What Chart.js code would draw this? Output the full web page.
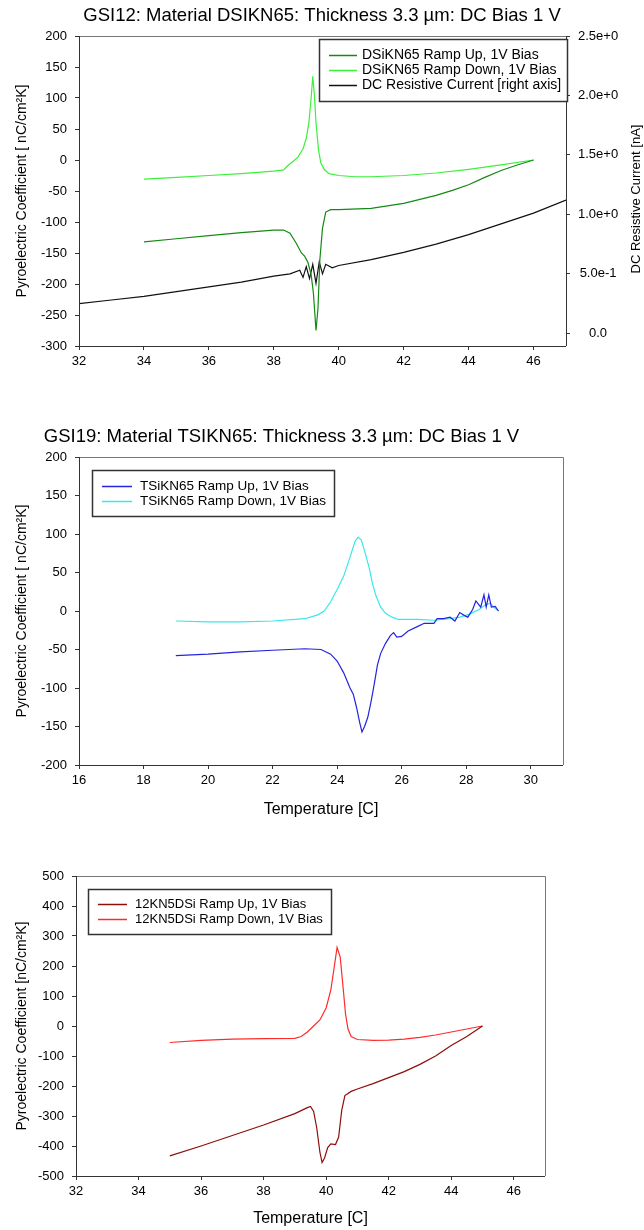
<!DOCTYPE html>
<html>
<head>
<meta charset="utf-8">
<script src="https://cdn.jsdelivr.net/npm/chart.js@4.4.0/dist/chart.umd.min.js"></script>
<style>
  html, body { margin: 0; padding: 0; background: #fff; }
  body { position: relative; width: 644px; height: 1230px; overflow: hidden; }
  canvas { position: absolute; left: 0; }
</style>
</head>
<body>
<canvas id="c1" width="644" height="376" style="top:0px"></canvas>
<canvas id="c2" width="644" height="405" style="top:420px"></canvas>
<canvas id="c3" width="644" height="390" style="top:840px"></canvas>
<script>
// --- chart 1: GSI12 / DSIKN65 ---
const ch1Title = "GSI12: Material DSIKN65: Thickness 3.3 \u00b5m: DC Bias 1 V";
const ch1XTicks = [32, 34, 36, 38, 40, 42, 44, 46];
const ch1RightTicks = [0, 0.5, 1.0, 1.5, 2.0, 2.5];
const ch1RightLabels = ["0.0", "5.0e-1", "1.0e+0", "1.5e+0", "2.0e+0", "2.5e+0"];
const ch1RightTitle = "DC Resistive Current [nA]";

const ch1UpLabel = "DSiKN65 Ramp Up, 1V Bias";
const ch1UpX = [34, 35, 36, 37, 38, 38.3, 38.5, 38.7, 38.85, 38.95, 39.05, 39.15, 39.22, 39.3, 39.36, 39.42, 39.5, 39.6, 39.75, 40, 41, 42, 43, 43.5, 44, 44.5, 45, 45.5, 46];
const ch1UpY = [-132, -127, -122, -117, -113, -113, -118, -135, -150, -155, -165, -185, -215, -275, -240, -160, -110, -84, -80, -80, -78, -70, -57, -49, -40, -28, -17, -8, 0];

const ch1DownLabel = "DSiKN65 Ramp Down, 1V Bias";
const ch1DownX = [34, 35, 36, 37, 38, 38.3, 38.45, 38.6, 38.75, 38.9, 39.0, 39.08, 39.15, 39.2, 39.25, 39.3, 39.38, 39.45, 39.55, 39.7, 40, 40.5, 41, 42, 43, 44, 45, 46];
const ch1DownY = [-31, -28, -25, -22, -18, -16, -8, -2, 5, 18, 35, 60, 100, 135, 105, 60, 15, -5, -15, -22, -25, -27, -27, -25, -21, -15, -8, 0];

const dcLabel = "DC Resistive Current [right axis]";
const dcX = [32, 33, 34, 35, 36, 37, 38, 38.5, 38.8, 38.9, 39.0, 39.1, 39.2, 39.3, 39.4, 39.5, 39.6, 39.8, 40, 41, 42, 43, 44, 45, 46, 47];
const dcY = [0.25, 0.28, 0.31, 0.35, 0.39, 0.43, 0.48, 0.5, 0.53, 0.47, 0.56, 0.46, 0.58, 0.42, 0.6, 0.5, 0.58, 0.55, 0.57, 0.62, 0.68, 0.75, 0.83, 0.92, 1.01, 1.12];

// --- chart 2: GSI19 / TSIKN65 ---
const ch2Title = "GSI19: Material TSIKN65: Thickness 3.3 \u00b5m: DC Bias 1 V";
const ch2XTicks = [16, 18, 20, 22, 24, 26, 28, 30];

const ch2UpLabel = "TSiKN65 Ramp Up, 1V Bias";
const ch2UpX = [19, 20, 21, 22, 23, 23.5, 23.8, 24, 24.2, 24.4, 24.5, 24.6, 24.7, 24.77, 24.85, 24.95, 25.05, 25.15, 25.25, 25.35, 25.5, 25.65, 25.75, 25.85, 26, 26.2, 26.5, 26.7, 27, 27.1, 27.3, 27.5, 27.65, 27.8, 27.95, 28.05, 28.2, 28.3, 28.45, 28.55, 28.62, 28.7, 28.78, 28.9, 29];
const ch2UpY = [-58, -56, -53, -51, -49, -50, -56, -65, -80, -100, -108, -125, -145, -157, -150, -138, -118, -95, -70, -55, -42, -32, -28, -34, -33, -26, -20, -16, -16, -10, -10, -8, -13, -2, -6, -8, 2, 13, 5, 21, 5, 21, 5, 6, 0];

const ch2DownLabel = "TSiKN65 Ramp Down, 1V Bias";
const ch2DownX = [19, 20, 21, 22, 23, 23.4, 23.6, 23.8, 24, 24.2, 24.4, 24.55, 24.65, 24.75, 24.85, 25, 25.1, 25.2, 25.35, 25.5, 25.7, 25.9, 26.2, 26.5, 27, 27.5, 27.8, 28.1, 28.4, 28.6, 28.75, 28.85, 29];
const ch2DownY = [-13, -14, -14, -13, -10, -5, 0, 12, 28, 45, 70, 90, 96, 92, 78, 55, 35, 20, 5, -3, -8, -11, -11, -11, -12, -10, -8, -4, 2, 8, 10, 5, 0];

// --- chart 3: 12KN5DSi ---
const ch3XTicks = [32, 34, 36, 38, 40, 42, 44, 46];

const ch3UpLabel = "12KN5DSi Ramp Up, 1V Bias";
const ch3UpX = [35, 36, 37, 38, 39, 39.4, 39.5, 39.6, 39.7, 39.8, 39.87, 39.95, 40.05, 40.15, 40.3, 40.4, 40.5, 40.6, 40.8, 41, 41.5, 42, 42.5, 43, 43.5, 44, 44.5, 45];
const ch3UpY = [-433, -400, -365, -330, -292, -272, -268, -285, -340, -420, -455, -440, -405, -393, -395, -370, -280, -232, -218, -210, -192, -172, -152, -128, -100, -65, -35, 0];

const ch3DownLabel = "12KN5DSi Ramp Down, 1V Bias";
const ch3DownX = [35, 36, 37, 38, 39, 39.2, 39.4, 39.6, 39.8, 40, 40.15, 40.25, 40.35, 40.45, 40.55, 40.62, 40.7, 40.8, 41, 41.5, 42, 42.5, 43, 43.5, 44, 44.5, 45];
const ch3DownY = [-55, -48, -44, -42, -41, -35, -20, 0, 20, 60, 120, 190, 262, 230, 120, 40, -10, -35, -45, -48, -47, -44, -38, -30, -20, -10, 0];

const FONT = "'Liberation Sans', Arial, Helvetica, sans-serif";
Chart.defaults.font.family = FONT;
Chart.defaults.color = "#000";

const pts = (xs, ys) => xs.map((x, i) => ({ x, y: ys[i] }));

function line(label, xs, ys, color, axis) {
  return {
    label,
    data: pts(xs, ys),
    borderColor: color,
    backgroundColor: color,
    borderWidth: 1.2,
    pointRadius: 0,
    showLine: true,
    tension: 0,
    yAxisID: axis || "y"
  };
}

// frame round the plot: dark left/bottom, lighter top/right
const frame = {
  id: "frame",
  afterDatasetsDraw(chart, args, opts) {
    const { left, right, top, bottom } = chart.chartArea;
    const ctx = chart.ctx;
    ctx.save();
    ctx.lineWidth = 1;
    ctx.strokeStyle = opts.light || "#777";
    ctx.beginPath();
    ctx.moveTo(left, Math.round(top) + 0.5);
    ctx.lineTo(Math.round(right) + 0.5, Math.round(top) + 0.5);
    ctx.lineTo(Math.round(right) + 0.5, bottom);
    ctx.stroke();
    ctx.strokeStyle = opts.dark || "#333";
    ctx.beginPath();
    ctx.moveTo(Math.round(left) + 0.5, top);
    ctx.lineTo(Math.round(left) + 0.5, Math.round(bottom) + 0.5);
    ctx.lineTo(right, Math.round(bottom) + 0.5);
    ctx.stroke();
    if (opts.rightDark) {
      ctx.beginPath();
      ctx.moveTo(Math.round(right) + 0.5, top);
      ctx.lineTo(Math.round(right) + 0.5, bottom);
      ctx.stroke();
    }
    ctx.restore();
  }
};

// right-axis title, read bottom to top like the left one
const sideTitle = {
  id: "sideTitle",
  afterDraw(chart, args, o) {
    if (!o.text) return;
    const ctx = chart.ctx;
    const { top, bottom } = chart.chartArea;
    ctx.save();
    ctx.translate(o.x, (top + bottom) / 2 + (o.dy || 0));
    ctx.rotate(-Math.PI / 2);
    ctx.font = o.size + "px " + FONT;
    ctx.fillStyle = "#000";
    ctx.textAlign = "center";
    ctx.textBaseline = "middle";
    ctx.fillText(o.text, 0, 0);
    ctx.restore();
  }
};

// boxed legend drawn inside the plot
const boxLegend = {
  id: "boxLegend",
  afterDraw(chart, args, o) {
    const ctx = chart.ctx;
    ctx.save();
    ctx.fillStyle = "#fff";
    ctx.fillRect(o.x, o.y, o.w, o.h);
    ctx.strokeStyle = "#333";
    ctx.lineWidth = 1.5;
    ctx.strokeRect(o.x + 0.5, o.y + 0.5, o.w, o.h);
    ctx.font = o.size + "px " + FONT;
    ctx.textBaseline = "middle";
    ctx.textAlign = "left";
    chart.data.datasets.forEach((ds, i) => {
      const y = o.rowY + i * o.rowH;
      ctx.strokeStyle = ds.borderColor;
      ctx.lineWidth = 1.5;
      ctx.beginPath();
      ctx.moveTo(o.sx, y + 0.5);
      ctx.lineTo(o.sx + o.sw, y + 0.5);
      ctx.stroke();
      ctx.fillStyle = "#000";
      ctx.fillText(ds.label, o.tx, y);
    });
    ctx.restore();
  }
};

function xAxis(ticks, min, max, height, withTitle, titlePad) {
  return {
    type: "linear",
    position: "bottom",
    min, max,
    afterBuildTicks: s => { s.ticks = ticks.map(v => ({ value: v })); },
    afterFit: s => { s.height = height; },
    grid: { drawOnChartArea: false, tickLength: 4, color: "#333" },
    border: { display: false },
    ticks: { font: { size: 13 }, padding: 4, maxRotation: 0, autoSkip: false, color: "#000" },
    title: withTitle
      ? { display: true, text: "Temperature [C]", font: { size: 16 }, padding: { top: 0, bottom: titlePad } }
      : { display: false }
  };
}

function yAxis(min, max, step, width, titleText) {
  return {
    type: "linear",
    position: "left",
    min, max,
    afterFit: s => { s.width = width; },
    grid: { drawOnChartArea: false, tickLength: 4, color: "#333" },
    border: { display: false },
    ticks: { stepSize: step, font: { size: 13 }, padding: 8, color: "#000" },
    title: { display: true, text: titleText, font: { size: 14 }, padding: { top: 14, bottom: 0 } }
  };
}

new Chart(document.getElementById("c1"), {
  type: "scatter",
  data: {
    datasets: [
      line(ch1UpLabel, ch1UpX, ch1UpY, "#138a13"),
      line(ch1DownLabel, ch1DownX, ch1DownY, "#3cf03c"),
      line(dcLabel, dcX, dcY, "#111", "y2")
    ]
  },
  options: {
    responsive: false,
    animation: false,
    layout: { padding: 0 },
    scales: {
      x: xAxis(ch1XTicks, 32, 47, 30, false, 0),
      y: yAxis(-300, 200, 50, 79, "Pyroelectric Coefficient [ nC/cm\u00b2K]"),
      y2: {
        type: "linear",
        position: "right",
        min: -0.107, max: 2.5,
        afterBuildTicks: s => { s.ticks = ch1RightTicks.map(v => ({ value: v })); },
        afterFit: s => { s.width = 78; },
        grid: { drawOnChartArea: false, tickLength: 4, color: "#333" },
        border: { display: false },
        ticks: {
          font: { size: 13 }, padding: 8, crossAlign: "center", color: "#000",
          callback: (v, i) => ch1RightLabels[i]
        },
        title: { display: false }
      }
    },
    plugins: {
      legend: { display: false },
      tooltip: { enabled: false },
      title: { display: true, text: ch1Title, font: { size: 18.5, weight: "normal" }, color: "#000", padding: { top: 5, bottom: 8.8 } },
      frame: { rightDark: true },
      sideTitle: { text: ch1RightTitle, x: 636, dy: 8, size: 13 },
      boxLegend: { x: 319, y: 39, w: 248, h: 62, sx: 329, sw: 28, tx: 362, rowY: 55, rowH: 15, size: 14 }
    }
  },
  plugins: [frame, sideTitle, boxLegend]
});

new Chart(document.getElementById("c2"), {
  type: "scatter",
  data: {
    datasets: [
      line(ch2UpLabel, ch2UpX, ch2UpY, "#2424dd"),
      line(ch2DownLabel, ch2DownX, ch2DownY, "#38e8e8")
    ]
  },
  options: {
    responsive: false,
    animation: false,
    layout: { padding: { left: 0, right: 81, top: 0, bottom: 0 } },
    scales: {
      x: xAxis(ch2XTicks, 16, 31, 60, true, 6),
      y: yAxis(-200, 200, 50, 79, "Pyroelectric Coefficient [ nC/cm\u00b2K]")
    },
    plugins: {
      legend: { display: false },
      tooltip: { enabled: false },
      title: { display: true, text: ch2Title, font: { size: 18.5, weight: "normal" }, color: "#000", padding: { top: 6, bottom: 8.8 } },
      frame: {},
      boxLegend: { x: 92, y: 50, w: 242, h: 46, sx: 102, sw: 30, tx: 140, rowY: 66, rowH: 15, size: 13.5 }
    }
  },
  plugins: [frame, boxLegend]
});

new Chart(document.getElementById("c3"), {
  type: "scatter",
  data: {
    datasets: [
      line(ch3UpLabel, ch3UpX, ch3UpY, "#8e0d0d"),
      line(ch3DownLabel, ch3DownX, ch3DownY, "#ff2b2b")
    ]
  },
  options: {
    responsive: false,
    animation: false,
    layout: { padding: { left: 0, right: 99, top: 36, bottom: 0 } },
    scales: {
      x: xAxis(ch3XTicks, 32, 47, 54, true, 2),
      y: yAxis(-500, 500, 100, 76, "Pyroelectric Coefficient [nC/cm\u00b2K]")
    },
    plugins: {
      legend: { display: false },
      tooltip: { enabled: false },
      title: { display: false },
      frame: {},
      boxLegend: { x: 88, y: 49, w: 243, h: 45, sx: 98, sw: 29, tx: 135, rowY: 64, rowH: 15, size: 13 }
    }
  },
  plugins: [frame, boxLegend]
});
</script>
</body>
</html>
